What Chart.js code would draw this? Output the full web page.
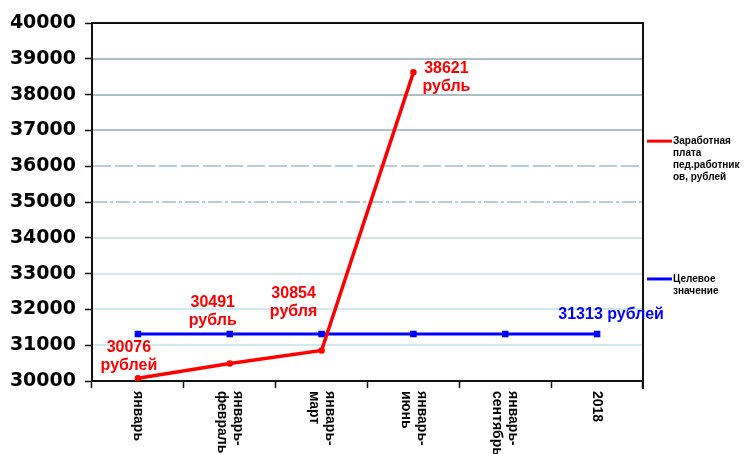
<!DOCTYPE html>
<html>
<head>
<meta charset="utf-8">
<script src="https://cdn.jsdelivr.net/npm/chart.js@4"></script>
<style>
  html, body { margin: 0; padding: 0; background: #fff; }
</style>
</head>
<body>
<canvas id="canvas" width="748" height="454"></canvas>
<script>
var categories = [['январь'], ['январь-', 'февраль'], ['январь-', 'март'], ['январь-', 'июнь'], ['январь-', 'сентябрь'], ['2018']];
var salary = [30076, 30491, 30854, 38621, null, null];
var salaryUnits = ['рублей', 'рубль', 'рубля', 'рубль'];
var target = [31313, 31313, 31313, 31313, 31313, 31313];
var targetUnit = 'рублей';
var yTicks = [30000, 31000, 32000, 33000, 34000, 35000, 36000, 37000, 38000, 39000, 40000];
var legendSalary = ['Заработная', 'плата', 'пед.работник', 'ов, рублей'];
var legendTarget = ['Целевое', 'значение'];

var FONT = '"Liberation Sans", Arial, sans-serif';
var RED = '#ff0000';
var BLUE = '#0000ff';

// gridline look per value, roughly like the scanned original
var gridStyle = {
  31000: ['#bfe3e8', 1.5, []],
  32000: ['#bfe3e8', 1.5, []],
  33000: ['#c3dfe2', 1.5, []],
  34000: ['#c3dadd', 1.5, []],
  35000: ['#b6cfd2', 2, [14, 3, 3, 3]],
  36000: ['#b6cfd2', 2, [18, 4]],
  37000: ['#aec4c6', 2, []],
  38000: ['#aabfc1', 2, []],
  39000: ['#aabfc1', 2, []]
};

var gridLines = {
  id: 'gridLines',
  beforeDatasetsDraw: function(chart) {
    var ctx = chart.ctx, a = chart.chartArea, y = chart.scales.y;
    yTicks.forEach(function(v) {
      var s = gridStyle[v];
      if (!s) return;
      var py = Math.round(y.getPixelForValue(v));
      ctx.save();
      ctx.strokeStyle = s[0];
      ctx.lineWidth = s[1];
      ctx.setLineDash(s[2]);
      ctx.beginPath();
      ctx.moveTo(a.left + 1, py);
      ctx.lineTo(a.right - 1, py);
      ctx.stroke();
      ctx.restore();
    });
  }
};

var frame = {
  id: 'frame',
  afterDatasetsDraw: function(chart) {
    var ctx = chart.ctx, a = chart.chartArea;
    ctx.save();
    ctx.strokeStyle = '#111';
    ctx.lineWidth = 2;
    ctx.beginPath();
    ctx.moveTo(a.left, a.top);
    ctx.lineTo(a.right, a.top);
    ctx.lineTo(a.right, a.bottom + 8);
    ctx.stroke();
    ctx.restore();
  }
};

var xLabels = {
  id: 'xLabels',
  afterDraw: function(chart) {
    var ctx = chart.ctx, x = chart.scales.x, a = chart.chartArea;
    ctx.save();
    ctx.fillStyle = '#000';
    ctx.font = 'bold 14px ' + FONT;
    ctx.textAlign = 'left';
    ctx.textBaseline = 'middle';
    chart.data.labels.forEach(function(lines, i) {
      var px = x.getPixelForValue(i);
      ctx.save();
      ctx.translate(px, a.bottom + 10);
      ctx.rotate(Math.PI / 2);
      lines.forEach(function(t, j) {
        ctx.fillText(t, 0, (j - (lines.length - 1) / 2) * 16);
      });
      ctx.restore();
    });
    ctx.restore();
  }
};

// label offsets from their points (first line centre)
var salaryLabelPos = [[-9, -31], [-17, -61], [-28, -57], [33, -4]];

var dataLabels = {
  id: 'dataLabels',
  afterDatasetsDraw: function(chart) {
    var ctx = chart.ctx;
    ctx.save();
    ctx.font = 'bold 16px ' + FONT;
    ctx.textAlign = 'center';
    ctx.textBaseline = 'middle';
    ctx.fillStyle = RED;
    var m0 = chart.getDatasetMeta(0);
    salary.forEach(function(v, i) {
      if (v === null) return;
      var p = m0.data[i], o = salaryLabelPos[i];
      ctx.fillText(String(v), p.x + o[0], p.y + o[1]);
      ctx.fillText(salaryUnits[i], p.x + o[0], p.y + o[1] + 18);
    });
    var m1 = chart.getDatasetMeta(1);
    var last = m1.data[target.length - 1];
    ctx.fillStyle = BLUE;
    ctx.fillText(target[target.length - 1] + ' ' + targetUnit, last.x + 14, last.y - 19);
    ctx.restore();
  }
};

var sideLegend = {
  id: 'sideLegend',
  afterDraw: function(chart) {
    var ctx = chart.ctx, y = chart.scales.y, a = chart.chartArea;
    var items = [
      [RED, legendSalary, y.getPixelForValue(36700)],
      [BLUE, legendTarget, y.getPixelForValue(32850)]
    ];
    ctx.save();
    ctx.font = 'bold 10px ' + FONT;
    ctx.textAlign = 'left';
    ctx.textBaseline = 'middle';
    items.forEach(function(it) {
      ctx.strokeStyle = it[0];
      ctx.lineWidth = 3;
      ctx.beginPath();
      ctx.moveTo(a.right + 4, it[2]);
      ctx.lineTo(a.right + 29, it[2]);
      ctx.stroke();
      ctx.fillStyle = '#000';
      it[1].forEach(function(t, j) {
        ctx.fillText(t, a.right + 30, it[2] + j * 12);
      });
    });
    ctx.restore();
  }
};

var config = {
  type: 'line',
  data: {
    labels: categories,
    datasets: [{
      label: legendSalary.join(' '),
      data: salary,
      borderColor: RED,
      backgroundColor: RED,
      borderWidth: 3.5,
      pointRadius: 1.5,
      pointHoverRadius: 1.5,
      tension: 0,
      spanGaps: false
    }, {
      label: legendTarget.join(' '),
      data: target,
      borderColor: BLUE,
      backgroundColor: BLUE,
      borderWidth: 3,
      pointStyle: 'rect',
      pointRadius: 2.5,
      pointHoverRadius: 2.5,
      tension: 0
    }]
  },
  options: {
    responsive: false,
    animation: false,
    events: [],
    layout: { padding: { top: 23, right: 105, left: 0, bottom: 0 } },
    plugins: {
      legend: { display: false },
      title: { display: false },
      tooltip: { enabled: false }
    },
    scales: {
      x: {
        offset: true,
        afterFit: function(s) { s.height = 73; },
        ticks: { display: false },
        grid: {
          offset: true,
          drawOnChartArea: false,
          drawTicks: true,
          tickLength: 7,
          tickColor: '#111',
          tickWidth: 1.5
        },
        border: { color: '#111', width: 2 }
      },
      y: {
        min: 30000,
        max: 40000,
        afterFit: function(s) { s.width = 92; },
        afterBuildTicks: function(s) {
          s.ticks = yTicks.map(function(v) { return { value: v }; });
        },
        ticks: {
          padding: 9,
          color: '#000',
          font: { family: '"DejaVu Sans", sans-serif', size: 19, weight: 'bold' },
          callback: function(v) { return String(v); }
        },
        grid: {
          drawOnChartArea: false,
          drawTicks: true,
          tickLength: 7,
          tickColor: '#111',
          tickWidth: 1.5
        },
        border: { color: '#111', width: 2 }
      }
    }
  },
  plugins: [gridLines, frame, xLabels, dataLabels, sideLegend]
};

window.onload = function() {
  window.myLine = new Chart(document.getElementById('canvas'), config);
};
</script>
</body>
</html>
